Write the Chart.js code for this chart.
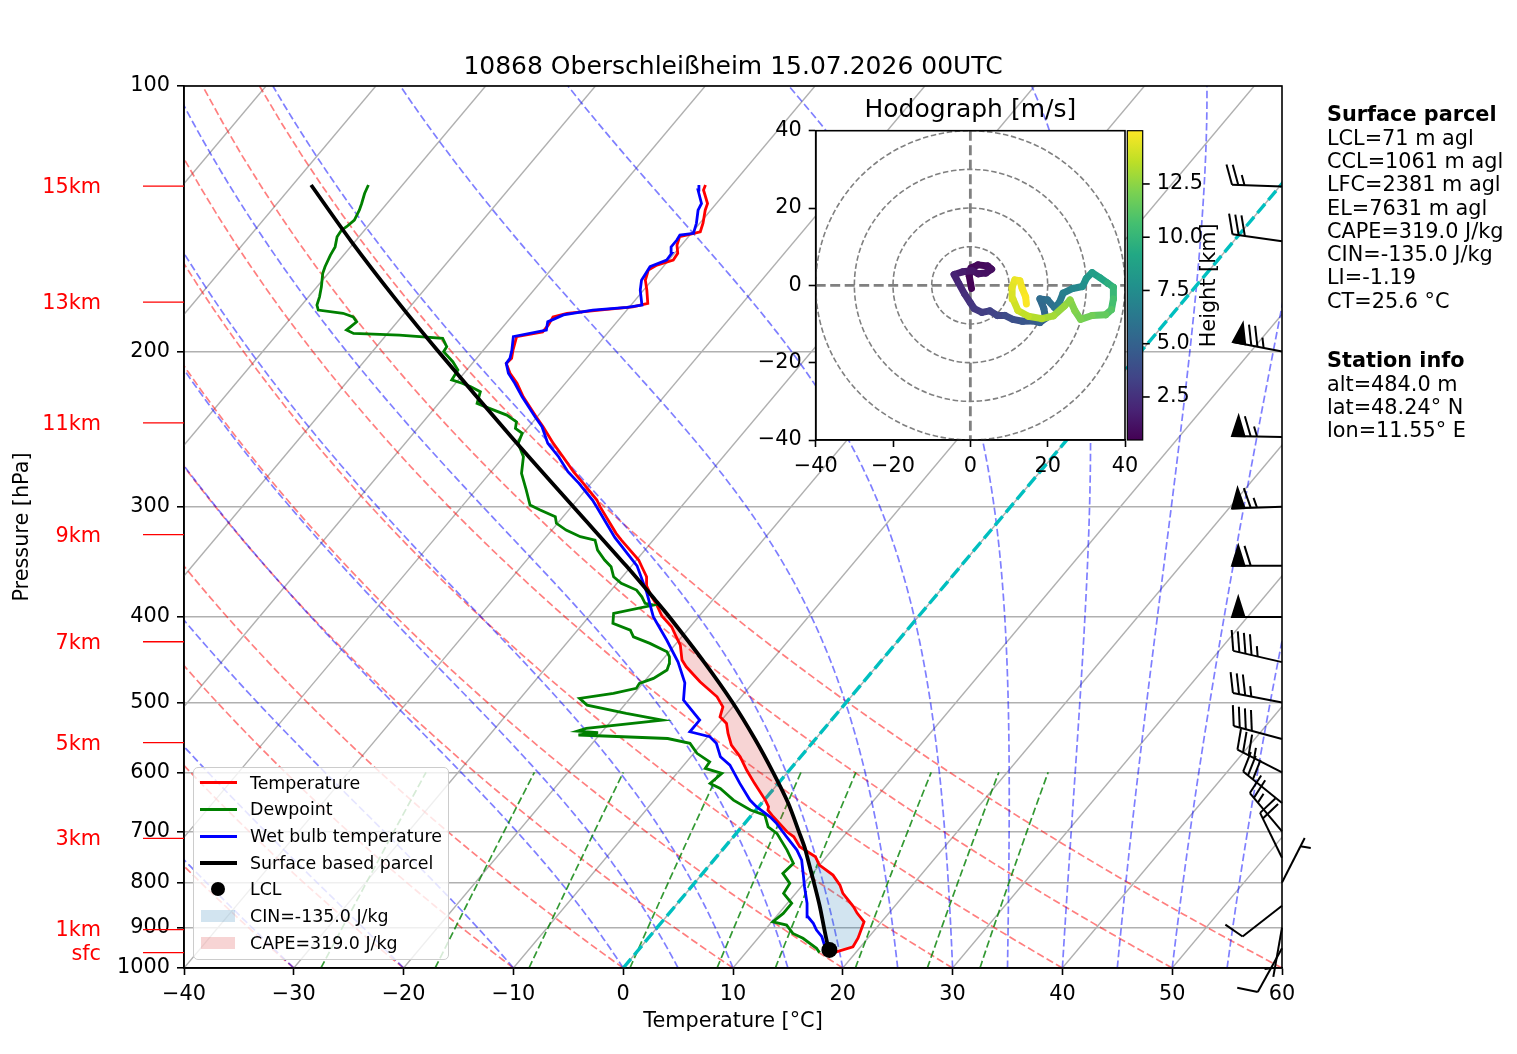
<!DOCTYPE html>
<html>
<head>
<meta charset="utf-8">
<title>Skew-T 10868 Oberschleißheim</title>
<script src="https://cdn.jsdelivr.net/npm/chart.js@4.4.1/dist/chart.umd.min.js"></script>
<style>
  html, body { margin:0; padding:0; background:#fff; }
  #wrap { position:relative; width:1517px; height:1054px; overflow:hidden; font-family:'DejaVu Sans', sans-serif; color:#000; }
  #skew { position:absolute; left:0; top:0; }
  #hodo { position:absolute; left:730px; top:60px; }
  #legend { position:absolute; left:193px; top:767px; width:256px; height:193px; box-sizing:border-box;
            border:1.5px solid #cccccc; border-radius:5px; background:rgba(255,255,255,0.8); }
  #legend .row { position:absolute; left:0; width:100%; height:20px; }
  #legend .txt { position:absolute; left:56px; top:0; font-size:17.4px; line-height:20px; white-space:nowrap; }
  .info { position:absolute; left:1327px; font-size:20.8px; line-height:23.3px; white-space:nowrap; }
</style>
</head>
<body>
<div id="wrap">
  <canvas id="skew" width="1517" height="1054"></canvas>
  <canvas id="hodo" width="530" height="430"></canvas>
  <div id="legend"></div>
  <div class="info" style="top:103.4px"><b>Surface parcel</b><br>LCL=71 m agl<br>CCL=1061 m agl<br>LFC=2381 m agl<br>EL=7631 m agl<br>CAPE=319.0 J/kg<br>CIN=-135.0 J/kg<br>LI=-1.19<br>CT=25.6 °C</div>
  <div class="info" style="top:349.3px"><b>Station info</b><br>alt=484.0 m<br>lat=48.24° N<br>lon=11.55° E</div>
</div>
<script>
// ------------------------------------------------------------------ data
const chartTitle = '10868 Oberschleißheim 15.07.2026 00UTC';

const tempP = [960.6, 946.0, 924.7, 886.3, 866.4, 852.3, 823.0, 805.4, 784.6, 764.4, 748.0, 728.7, 710.0, 700.8,
  673.8, 662.1, 656.4, 645.1, 617.1, 596.5, 576.2, 558.8, 542.0, 528.1, 519.0, 505.7, 492.6, 473.7, 455.5, 447.6,
  430.4, 421.2, 410.3, 399.0, 387.7, 379.4, 369.6, 360.1, 350.8, 344.7, 327.2, 321.5, 299.9, 294.7, 282.2, 273.7,
  263.2, 254.2, 243.4, 237.1, 225.1, 217.3, 211.7, 206.3, 203.6, 199.3, 192.4, 190.0, 186.7, 182.7, 181.0, 179.5,
  178.0, 176.4, 170.4, 166.0, 161.7, 159.6, 157.5, 154.8, 151.5, 148.2, 147.6, 146.3, 143.1, 138.3, 135.9, 131.2, 129.5];
const tempT = [18.0, 19.3, 19.1, 18.4, 17.1, 16.3, 14.3, 13.4, 12.0, 10.0, 9.0, 6.8, 5.5, 4.5,
  2.1, 1.1, 0.9, 0.1, -2.2, -3.9, -5.5, -7.2, -8.4, -9.3, -10.4, -10.9, -12.2, -14.9, -17.3, -18.2,
  -19.5, -20.5, -21.7, -23.4, -24.7, -25.8, -27.0, -27.8, -29.0, -29.8, -32.9, -33.9, -37.4, -38.2, -40.7, -42.5,
  -44.6, -46.5, -48.7, -50.1, -52.8, -54.4, -55.8, -56.9, -56.8, -57.3, -58.0, -56.0, -56.0, -56.2, -55.2, -52.5,
  -49.7, -48.6, -49.7, -50.6, -51.1, -50.7, -49.6, -49.7, -50.4, -50.8, -50.3, -49.3, -49.7, -50.5, -50.8, -52.2, -52.4];

const dewP = [960.6, 949.9, 925.4, 913.6, 894.0, 886.3, 867.1, 844.7, 823.0, 801.8, 781.1, 761.0, 735.0, 703.7,
  691.7, 670.8, 662.1, 645.1, 625.7, 617.6, 601.7, 593.9, 583.7, 571.0, 556.3, 549.3, 544.3, 540.8, 538.7, 534.9,
  523.5, 514.4, 503.4, 494.6, 488.2, 481.9, 475.6, 469.5, 459.4, 451.5, 443.7, 438.0, 428.5, 421.2, 413.9, 406.7,
  396.2, 387.7, 386.0, 379.4, 372.8, 366.4, 360.1, 350.8, 344.7, 335.9, 327.2, 324.3, 318.8, 313.2, 307.9, 302.5,
  298.6, 287.1, 274.9, 263.2, 254.2, 247.6, 244.4, 240.3, 236.1, 232.0, 229.0, 222.1, 219.2, 217.3, 215.4, 209.9,
  205.4, 200.1, 197.5, 193.3, 191.6, 190.8, 189.1, 185.1, 182.7, 181.0, 179.5, 177.2, 173.4, 168.9, 163.1, 160.3,
  155.5, 152.2, 148.2, 145.7, 144.4, 141.9, 138.3, 135.9, 132.4, 129.5];
const dewT = [16.7, 16.1, 14.1, 12.8, 11.6, 10.1, 10.4, 10.4, 8.9, 8.7, 7.3, 7.5, 5.9, 3.7,
  2.4, 1.2, -0.5, -2.8, -4.9, -6.2, -5.9, -7.8, -7.9, -9.7, -11.1, -13.5, -21.9, -20.3, -22.3, -21.7,
  -15.4, -19.2, -23.4, -24.6, -21.9, -20.2, -20.3, -19.4, -18.8, -19.1, -19.6, -20.2, -22.4, -24.4, -25.2, -27.3,
  -28.0, -25.0, -25.9, -26.7, -27.7, -29.6, -30.8, -31.8, -32.9, -34.3, -35.3, -36.9, -38.7, -40.1, -40.7, -42.6,
  -43.9, -45.4, -47.1, -48.2, -49.7, -50.1, -51.1, -51.5, -52.9, -55.0, -56.5, -57.1, -58.4, -59.4, -60.6, -60.8,
  -61.9, -63.5, -63.6, -64.6, -68.8, -73.1, -74.0, -73.7, -74.4, -75.6, -78.1, -78.6, -79.0, -79.6, -80.5, -80.8,
  -81.2, -81.4, -82.0, -82.1, -81.9, -81.7, -82.0, -82.3, -82.8, -83.1];

const wbP = [960.6, 946.0, 921.6, 905.6, 890.0, 874.8, 844.7, 808.9, 781.1, 754.5, 735.0, 710.0, 685.5, 673.8,
  656.4, 645.1, 617.6, 588.8, 576.2, 556.3, 546.8, 539.7, 523.5, 496.9, 475, 450, 425, 400, 375, 350, 325, 300,
  294.7, 282.2, 273.7, 263.2, 254.2, 243.4, 237.1, 225.1, 217.3, 211.7, 206.3, 203.6, 199.3, 192.4, 189.1, 185.1,
  181.8, 179.5, 178.2, 177.2, 170.4, 166.0, 160.3, 157.5, 154.8, 152.2, 149.5, 147.6, 146.9, 143.1, 138.3, 135.9,
  131.2, 129.5];
const wbT = [17.2, 16.75, 15.7, 14.7, 13.9, 12.9, 11.8, 10.3, 9.15, 8.0, 6.8, 4.85, 2.9, 1.8,
  -0.2, -1.3, -3.5, -5.8, -7.3, -8.7, -9.8, -12.0, -12.0, -15.0, -16.2, -18.4, -21.1, -24.1, -26.6, -29.5, -33.7, -37.7,
  -38.6, -41.1, -43.0, -45.0, -47.0, -48.8, -50.2, -52.9, -54.6, -55.95, -56.9, -56.95, -57.4, -58.3, -55.8, -56.3,
  -55.4, -53.1, -50.2, -49.0, -50.3, -50.95, -51.2, -50.2, -50.25, -50.8, -50.8, -50.9, -49.8, -50.3, -51.15, -51.35,
  -52.7, -53.0];

const parcelP = [960.6, 954, 925, 900, 850, 800, 750, 729, 700, 650, 600, 550, 500, 450, 400, 383, 350, 300,
  250, 200, 175, 150, 129.5];
const parcelT = [18.0, 17.4, 16.2, 15.2, 13.13, 10.83, 8.35, 7.25, 5.54, 2.40, -1.32, -5.52, -10.35, -16.03, -22.64,
  -25.17, -30.49, -39.82, -50.8, -63.99, -71.71, -80.36, -88.32];

const lclP = 954, lclT = 17.4;      // LCL marker
const lfcP = 729, elP = 383;        // bounds of the shaded areas
const cinLabel = 'CIN=-135.0 J/kg';
const capeLabel = 'CAPE=319.0 J/kg';

// wind barbs (knots, direction the wind comes from)
const barbP   = [950, 900, 850, 800, 750, 700, 650, 600, 550, 500, 450, 400, 350, 300, 250, 200, 150, 130];
const barbSpd = [10, 5, 10, 5, 20, 25, 30, 35, 40, 35, 45, 50, 60, 65, 65, 75, 30, 25];
const barbDir = [209, 190, 232, 27, 334, 320, 309, 297, 285, 281, 283, 270, 270, 268, 271, 281, 278, 272];

// hodograph (m/s) with height (km)
const hodoU = [0.3, -0.3, 0.2, 2.0, 4.5, 5.5, 4.0, 2.0, 0.5, -2.0, -4.2, -3.0, -1.5, 0.0, 1.0, 3.0, 5.0, 7.0, 9.0, 11.0,
  13.5, 16.0, 18.0, 19.5, 19.0, 18.0, 20.0, 21.8, 23.0, 24.0, 26.5, 29.0, 30.0, 31.5, 33.5, 35.5, 37.0, 37.0, 36.5, 35.0,
  31.5, 28.5, 27.0, 25.8, 24.3, 21.5, 18.5, 15.0, 12.3, 11.0, 10.8, 11.5, 12.8, 13.4, 14.3, 14.5];
const hodoV = [-0.8, 2.5, 4.5, 5.3, 5.0, 4.2, 3.2, 3.0, 3.8, 3.5, 2.8, 0.5, -2.2, -4.5, -6.0, -7.0, -6.6, -7.8, -7.8, -8.8,
  -9.3, -9.2, -9.6, -8.5, -6.0, -3.5, -3.8, -5.8, -4.5, -2.0, -0.8, -0.3, 1.8, 3.3, 2.0, 0.6, -0.5, -3.5, -6.3, -7.6,
  -7.8, -8.8, -6.5, -3.8, -5.4, -7.9, -8.6, -8.0, -6.5, -3.5, -0.5, 1.4, 1.2, -0.8, -3.0, -4.8];
const hodoH = [0.48, 0.55, 0.65, 0.75, 0.85, 0.95, 1.05, 1.15, 1.3, 1.5, 1.75, 2.0, 2.3, 2.6, 2.8, 3.0, 3.2, 3.4, 3.6, 3.9,
  4.2, 4.5, 4.8, 5.1, 5.3, 5.5, 5.7, 5.9, 6.2, 6.5, 6.9, 7.4, 7.9, 8.3, 8.8, 9.3, 9.9, 10.4, 10.9, 11.3,
  11.7, 12.0, 12.2, 12.4, 12.6, 12.9, 13.2, 13.5, 13.8, 14.1, 14.3, 14.5, 14.65, 14.8, 14.9, 15.0];

// axes / reference lines
const tempTicks  = [-40, -30, -20, -10, 0, 10, 20, 30, 40, 50, 60];
const pressTicks = [100, 200, 300, 400, 500, 600, 700, 800, 900, 1000];
const heightLabels = ['15km', '13km', '11km', '9km', '7km', '5km', '3km', '1km', 'sfc'];
const heightP      = [129.9, 175.8, 240.9, 322.6, 426.7, 555.2, 712.8, 904.6, 960.6];
const isotherms = [-110, -100, -90, -80, -70, -60, -50, -40, -30, -20, -10, 0, 10, 20, 30, 40, 50, 60];
const dryT0   = [-40, -30, -20, -10, 0, 10, 20, 30, 40, 50, 60];
const moistT0 = [-40, -30, -20, -10, 0, 5, 10, 15, 20, 25, 30, 35, 40, 45, 50, 55, 60];
const mixRatios = [0.0004, 0.001, 0.002, 0.004, 0.007, 0.01, 0.016, 0.024, 0.032];
const hodoTicks = [-40, -20, 0, 20, 40];
const hodoRings = [10, 20, 30, 40];
const cbTicks = [2.5, 5.0, 7.5, 10.0, 12.5];

// ------------------------------------------------------------------ helpers
Chart.defaults.font.family = "'DejaVu Sans', sans-serif";
Chart.defaults.color = '#000';

const SKEW = 67.47;                       // degC shift per decade of pressure
const sx = (t, p) => t + SKEW * (3 - Math.log10(p));
const toXY = (P, T) => P.map((p, i) => ({ x: sx(T[i], p), y: p }));
const fmtMinus = v => (v < 0 ? '\u2212' + Math.abs(v) : String(v));

const Rd = 287.04749, Cp = 1004.6662, Lv = 2.50084e6, EPS = 0.621957, KAPPA = Rd / Cp;
const esat = tc => 6.112 * Math.exp(17.67 * tc / (tc + 243.5));
function moistLapse(p, tk) {
  const es = esat(tk - 273.15), rs = EPS * es / (p - es);
  return (Rd * tk + Lv * rs) / (Cp + Lv * Lv * rs * EPS / (Rd * tk * tk)) / p;
}
function moistAdiabat(t0) {
  let T = t0 + 273.15, p = 1000; const dp = -5;
  const pts = [{ x: sx(t0, p), y: p }];
  while (p > 100.001) {
    const k1 = moistLapse(p, T), k2 = moistLapse(p + dp / 2, T + dp / 2 * k1);
    const k3 = moistLapse(p + dp / 2, T + dp / 2 * k2), k4 = moistLapse(p + dp, T + dp * k3);
    T += dp / 6 * (k1 + 2 * k2 + 2 * k3 + k4); p += dp;
    pts.push({ x: sx(T - 273.15, p), y: p });
  }
  return pts;
}
const curveP = []; for (let p = 1000; p >= 100; p -= 10) curveP.push(p);
const mixP = [];   for (let p = 1000; p >= 600; p -= 10) mixP.push(p);

function shade(pLo, pHi) {
  const a = parcelP.map((p, i) => [p, parcelT[i]]).filter(([p]) => p >= pLo - 1 && p <= pHi + 1);
  const b = tempP.map((p, i) => [p, tempT[i]]).filter(([p]) => p >= pLo - 1 && p <= pHi + 1).reverse();
  return a.concat(b).map(([p, t]) => ({ x: sx(t, p), y: p }));
}
function line(label, data, color, width, extra) {
  return Object.assign({ label, data, showLine: true, borderColor: color, backgroundColor: color, borderWidth: width,
    pointRadius: 0, pointHoverRadius: 0, fill: false, tension: 0, clip: 0 }, extra || {});
}

// ------------------------------------------------------------------ datasets
const dsLCL = { label: 'LCL', data: [{ x: sx(lclT, lclP), y: lclP }], showLine: false, pointRadius: 8,
  pointBackgroundColor: '#000', pointBorderColor: '#000', pointBorderWidth: 0, backgroundColor: '#000', clip: false, legendKind: 'dot' };
const dsParcel = line('Surface based parcel', toXY(parcelP, parcelT), '#000000', 3.8, { tension: 0.3, legendKind: 'line' });
const dsWB   = line('Wet bulb temperature', toXY(wbP, wbT), '#0000ff', 2.8, { legendKind: 'line' });
const dsDew  = line('Dewpoint', toXY(dewP, dewT), '#008000', 2.8, { legendKind: 'line' });
const dsTemp = line('Temperature', toXY(tempP, tempT), '#ff0000', 2.8, { legendKind: 'line' });
const dsCIN  = line(cinLabel, shade(lfcP, lclP), 'rgba(31,119,180,0.2)', 0, { fill: 'shape', legendKind: 'patch' });
const dsCAPE = line(capeLabel, shade(elP, lfcP), 'rgba(214,39,40,0.2)', 0, { fill: 'shape', legendKind: 'patch' });
const dsZero = line('0 °C', [{ x: sx(0, 1000), y: 1000 }, { x: sx(0, 100), y: 100 }], '#00bfbf', 3.4, { borderDash: [12, 5] });

const mixDS = mixRatios.map(w => line('w', mixP.map(p => {
  const e = p * w / (EPS + w), l = Math.log(e / 6.112);
  return { x: sx(243.5 * l / (17.67 - l), p), y: p };
}), 'rgba(0,128,0,0.8)', 1.7, { borderDash: [7.5, 3.3] }));
const moistDS = moistT0.map(t => line('m', moistAdiabat(t), 'rgba(0,0,255,0.5)', 1.7, { borderDash: [7.5, 3.3] }));
const dryDS = dryT0.map(t => line('d', curveP.map(p => ({ x: sx((t + 273.15) * Math.pow(p / 1000, KAPPA) - 273.15, p), y: p })),
  'rgba(255,0,0,0.5)', 1.7, { borderDash: [7.5, 3.3] }));
const isoDS = isotherms.map(t => line('i', [{ x: sx(t, 1000), y: 1000 }, { x: sx(t, 100), y: 100 }], '#b0b0b0', 1.4));

const datasets = [dsLCL, dsParcel, dsWB, dsDew, dsTemp, dsCIN, dsCAPE, dsZero, ...mixDS, ...moistDS, ...dryDS, ...isoDS];

// ------------------------------------------------------------------ plugins (main)
const framePlugin = { id: 'frame', afterDatasetsDraw(chart) {
  const { ctx, chartArea: a } = chart;
  ctx.save(); ctx.strokeStyle = '#000'; ctx.lineWidth = 1.6;
  ctx.strokeRect(a.left, a.top, a.right - a.left, a.bottom - a.top); ctx.restore();
} };

function drawBarb(ctx, x0, y0, spd, dir, L) {
  const th = dir * Math.PI / 180;
  const S = [Math.sin(th), -Math.cos(th)], P = [Math.cos(th), Math.sin(th)];
  const H = 0.4 * L, W = 0.25 * L, SP = 0.125 * L;
  const pt = (d, h) => [x0 + S[0] * d + P[0] * (h || 0), y0 + S[1] * d + P[1] * (h || 0)];
  let r = Math.round(spd / 5) * 5;
  const nF = Math.floor(r / 50); r -= nF * 50;
  const nB = Math.floor(r / 10); r -= nB * 10;
  const half = r >= 5;
  ctx.beginPath(); ctx.moveTo(...pt(0)); ctx.lineTo(...pt(L)); ctx.stroke();
  let off = L;
  for (let i = 0; i < nF; i++) {
    if (off !== L) off += SP / 2;
    ctx.beginPath(); ctx.moveTo(...pt(off)); ctx.lineTo(...pt(off - W / 2, H)); ctx.lineTo(...pt(off - W));
    ctx.closePath(); ctx.fill(); ctx.stroke();
    off -= W + SP;
  }
  for (let i = 0; i < nB; i++) {
    ctx.beginPath(); ctx.moveTo(...pt(off)); ctx.lineTo(...pt(off + W / 2, H)); ctx.stroke();
    off -= SP;
  }
  if (half) {
    if (off === L) off -= 1.5 * SP;
    ctx.beginPath(); ctx.moveTo(...pt(off)); ctx.lineTo(...pt(off + W / 4, H / 2)); ctx.stroke();
  }
}
const barbPlugin = { id: 'barbs', afterDatasetsDraw(chart) {
  const { ctx, chartArea: a, scales: { y } } = chart;
  ctx.save(); ctx.strokeStyle = '#000'; ctx.fillStyle = '#000'; ctx.lineWidth = 2; ctx.lineJoin = 'miter';
  barbP.forEach((p, i) => drawBarb(ctx, a.right, y.getPixelForValue(p), barbSpd[i], barbDir[i], 50));
  ctx.restore();
} };

const heightPlugin = { id: 'heights', afterDraw(chart) {
  const { ctx, chartArea: a, scales: { y } } = chart;
  ctx.save(); ctx.strokeStyle = '#ff0000'; ctx.fillStyle = '#ff0000'; ctx.lineWidth = 1.3;
  ctx.font = "20.8px 'DejaVu Sans', sans-serif"; ctx.textAlign = 'right'; ctx.textBaseline = 'middle';
  heightLabels.forEach((lab, i) => {
    const yy = y.getPixelForValue(heightP[i]);
    ctx.beginPath(); ctx.moveTo(a.left - 41, yy); ctx.lineTo(a.left, yy); ctx.stroke();
    ctx.fillText(lab, a.left - 83, yy + 1.5);
  });
  ctx.restore();
} };

// ------------------------------------------------------------------ main chart
const skewChart = new Chart(document.getElementById('skew'), {
  type: 'scatter',
  data: { datasets },
  options: {
    responsive: false, animation: false, events: [],
    layout: { padding: { left: 0, top: 0, right: 235, bottom: 0 } },
    plugins: {
      legend: { display: false }, tooltip: { enabled: false },
      title: { display: true, text: chartTitle, fullSize: false, color: '#000',
               font: { size: 25, weight: 'normal' }, padding: { top: 52, bottom: 4 } }
    },
    scales: {
      x: { type: 'linear', min: -40, max: 60,
           afterBuildTicks: s => { s.ticks = tempTicks.map(v => ({ value: v })); },
           ticks: { font: { size: 20.8 }, color: '#000', padding: 7, maxRotation: 0, autoSkip: false, callback: fmtMinus },
           grid: { display: true, drawOnChartArea: false, drawTicks: true, tickLength: 7, tickColor: '#000', tickWidth: 1.6 },
           border: { display: true, color: '#000', width: 1.6 },
           title: { display: true, text: 'Temperature [°C]', color: '#000', font: { size: 20.8 }, padding: { top: 0, bottom: 20 } },
           afterFit: s => { s.height = 86; } },
      y: { type: 'logarithmic', min: 100, max: 1000, reverse: true,
           afterBuildTicks: s => { s.ticks = pressTicks.map(v => ({ value: v })); },
           ticks: { font: { size: 20.8 }, color: '#000', padding: 7, autoSkip: false, callback: v => String(v) },
           grid: { color: '#b0b0b0', lineWidth: 1.6, tickLength: 7, tickColor: '#000', tickWidth: 1.6 },
           border: { display: true, color: '#000', width: 1.6 },
           title: { display: true, text: 'Pressure [hPa]', color: '#000', font: { size: 20.8 }, padding: { top: 10, bottom: 0 } },
           afterFit: s => { s.width = 184; } }
    }
  },
  plugins: [framePlugin, barbPlugin, heightPlugin]
});

// ------------------------------------------------------------------ legend (HTML)
(function buildLegend() {
  const box = document.getElementById('legend');
  [dsTemp, dsDew, dsWB, dsParcel, dsLCL, dsCIN, dsCAPE].forEach((ds, i) => {
    const row = document.createElement('div'); row.className = 'row';
    row.style.top = (4.8 + i * 26.67) + 'px';
    const h = document.createElement('div'); h.style.position = 'absolute';
    if (ds.legendKind === 'line') {
      Object.assign(h.style, { left: '5.5px', width: '37px', top: (10 - ds.borderWidth / 2) + 'px',
        height: ds.borderWidth + 'px', background: ds.borderColor });
    } else if (ds.legendKind === 'dot') {
      Object.assign(h.style, { left: '17px', width: '14px', top: '3px', height: '14px', borderRadius: '50%', background: ds.pointBackgroundColor });
    } else {
      Object.assign(h.style, { left: '6.8px', width: '34.4px', top: '4.2px', height: '11.7px', background: ds.backgroundColor });
    }
    const t = document.createElement('div'); t.className = 'txt'; t.textContent = ds.label;
    row.appendChild(h); row.appendChild(t); box.appendChild(row);
  });
})();

// ------------------------------------------------------------------ hodograph
const viridisStops = ['#440154', '#482475', '#414487', '#355f8d', '#2a788e', '#21918c', '#22a884', '#44bf70', '#7ad151', '#bddf26', '#fde725'];
const hexRgb = h => [parseInt(h.slice(1, 3), 16), parseInt(h.slice(3, 5), 16), parseInt(h.slice(5, 7), 16)];
function viridis(t) {
  t = Math.max(0, Math.min(1, t));
  const n = viridisStops.length - 1, i = Math.min(n - 1, Math.floor(t * n)), f = t * n - i;
  const a = hexRgb(viridisStops[i]), b = hexRgb(viridisStops[i + 1]);
  return 'rgb(' + a.map((v, k) => Math.round(v + (b[k] - v) * f)).join(',') + ')';
}
const hMin = Math.min(...hodoH), hMax = Math.max(...hodoH);
const hNorm = h => (h - hMin) / (hMax - hMin);

const hodoPlugin = {
  id: 'hodoDeco',
  beforeDraw(chart) {
    const { ctx, chartArea: a } = chart;
    ctx.save(); ctx.fillStyle = '#fff'; ctx.fillRect(a.left, a.top, a.right - a.left, a.bottom - a.top); ctx.restore();
  },
  beforeDatasetsDraw(chart) {
    const { ctx, chartArea: a, scales: { x, y } } = chart;
    const cx = x.getPixelForValue(0), cy = y.getPixelForValue(0);
    ctx.save(); ctx.beginPath(); ctx.rect(a.left, a.top, a.right - a.left, a.bottom - a.top); ctx.clip();
    ctx.strokeStyle = '#808080'; ctx.lineWidth = 1.6; ctx.setLineDash([5.5, 2.6]);
    hodoRings.forEach(r => { ctx.beginPath(); ctx.arc(cx, cy, x.getPixelForValue(r) - cx, 0, 2 * Math.PI); ctx.stroke(); });
    ctx.lineWidth = 2.8; ctx.setLineDash([10, 4.5]);
    ctx.beginPath(); ctx.moveTo(a.left, cy); ctx.lineTo(a.right, cy); ctx.moveTo(cx, a.top); ctx.lineTo(cx, a.bottom); ctx.stroke();
    ctx.restore();
  },
  afterDraw(chart) {
    const { ctx, chartArea: a } = chart;
    ctx.save();
    ctx.strokeStyle = '#000'; ctx.lineWidth = 1.6;
    ctx.strokeRect(a.left, a.top, a.right - a.left, a.bottom - a.top);
    const cbX = a.right + 2.3, cbW = 15.4;
    const g = ctx.createLinearGradient(0, a.bottom, 0, a.top);
    viridisStops.forEach((c, i) => g.addColorStop(i / (viridisStops.length - 1), c));
    ctx.fillStyle = g; ctx.fillRect(cbX, a.top, cbW, a.bottom - a.top);
    ctx.lineWidth = 1.2; ctx.strokeRect(cbX, a.top, cbW, a.bottom - a.top);
    const hs = chart.scales.h; ctx.lineWidth = 1.6;
    cbTicks.forEach(v => { const yy = hs.getPixelForValue(v); ctx.beginPath(); ctx.moveTo(cbX + cbW, yy); ctx.lineTo(cbX + cbW + 7, yy); ctx.stroke(); });
    ctx.translate(a.right + 85, (a.top + a.bottom) / 2); ctx.rotate(-Math.PI / 2);
    ctx.font = "20.8px 'DejaVu Sans', sans-serif"; ctx.fillStyle = '#000'; ctx.textAlign = 'center'; ctx.textBaseline = 'middle';
    ctx.fillText('Height [km]', 0, 0);
    ctx.restore();
  }
};

const hodoAxis = (fit) => ({
  type: 'linear', min: -40, max: 40,
  afterBuildTicks: s => { s.ticks = hodoTicks.map(v => ({ value: v })); },
  ticks: { font: { size: 20.8 }, color: '#000', padding: 7, maxRotation: 0, autoSkip: false, callback: fmtMinus },
  grid: { display: true, drawOnChartArea: false, tickLength: 7, tickColor: '#000', tickWidth: 1.6 },
  border: { display: true, color: '#000', width: 1.6 },
  afterFit: fit
});

const hodoChart = new Chart(document.getElementById('hodo'), {
  type: 'scatter',
  data: { datasets: [{
    label: 'Hodograph', xAxisID: 'x', yAxisID: 'y',
    data: hodoU.map((u, i) => ({ x: u, y: hodoV[i] })),
    showLine: true, pointRadius: 0, borderWidth: 7, borderCapStyle: 'round', borderJoinStyle: 'round', clip: 0,
    borderColor: viridis(0),
    segment: { borderColor: c => viridis(hNorm((hodoH[c.p0DataIndex] + hodoH[c.p1DataIndex]) / 2)) }
  }] },
  options: {
    responsive: false, animation: false, events: [],
    layout: { padding: 0 },
    plugins: {
      legend: { display: false }, tooltip: { enabled: false },
      title: { display: true, text: 'Hodograph [m/s]', fullSize: false, color: '#000',
               font: { size: 25, weight: 'normal' }, padding: { top: 35, bottom: 5.7 } }
    },
    scales: {
      x: Object.assign(hodoAxis(s => { s.height = 50; }), { position: 'bottom' }),
      y: Object.assign(hodoAxis(s => { s.width = 85.7; }), { position: 'left' }),
      h: { type: 'linear', position: 'right', min: hMin, max: hMax,
           afterBuildTicks: s => { s.ticks = cbTicks.map(v => ({ value: v })); },
           ticks: { font: { size: 20.8 }, color: '#000', padding: 7, autoSkip: false, callback: v => v.toFixed(1) },
           grid: { display: true, drawOnChartArea: false, tickLength: 24.7, tickColor: 'rgba(0,0,0,0)' },
           border: { display: false },
           afterFit: s => { s.width = 135; } }
    }
  },
  plugins: [hodoPlugin]
});
</script>
</body>
</html>
